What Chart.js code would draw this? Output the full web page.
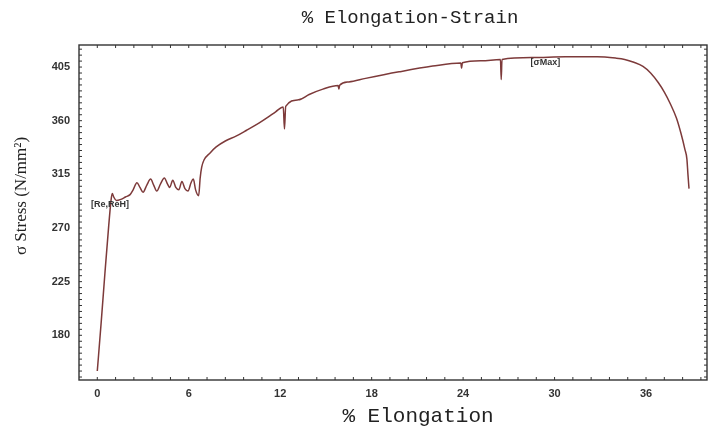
<!DOCTYPE html>
<html>
<head>
<meta charset="utf-8">
<script src="https://cdn.jsdelivr.net/npm/chart.js@4/dist/chart.umd.min.js"></script>
<style>
  html, body { margin: 0; padding: 0; background: #fff; }
  #wrap { width: 712px; height: 433px; }
</style>
</head>
<body>
<div id="wrap"><canvas id="strainChart" width="712" height="433"></canvas></div>
<script>
// % elongation (x) and stress in N/mm2 (y)
const elongation = [
  0.00, 0.25, 0.50, 0.75, 0.90, 0.98, 1.08, 1.25, 1.55, 1.85,
  2.15, 2.35, 2.60, 2.80, 3.00, 3.25, 3.50, 3.70, 3.90, 4.15,
  4.40, 4.60, 4.75, 4.95, 5.15, 5.35, 5.55, 5.75, 5.95, 6.15,
  6.30, 6.45, 6.65, 6.75, 6.85, 7.00, 7.40, 7.80, 8.40, 9.10,
  9.80, 10.6, 11.2, 11.7, 12.2, 12.28, 12.36, 13.2, 13.9, 14.8,
  15.8, 15.85, 15.9, 16.5, 17.6, 19.8, 22.0, 23.85, 23.9, 23.95,
  25.2, 26.45, 26.5, 26.55, 28.5, 30.7, 32.8, 34.0, 34.6, 35.2,
  35.8, 36.3, 36.8, 37.2, 37.6, 38.0, 38.3, 38.55, 38.68, 38.75,
  38.82
];
const stress = [
  150, 190, 232, 272, 293, 299, 296, 293, 294, 296,
  298, 302, 308, 304, 300, 306, 311, 306, 301, 307,
  312, 307, 304, 310, 304, 302, 309, 303, 301, 308,
  311, 302, 297, 312, 321, 327, 333, 338, 343, 347,
  352, 358, 363, 367.5, 371.5, 353, 372, 377.5, 382, 386.5,
  389.5, 386.5, 389.8, 392.5, 395.5, 401, 405.8, 408.5, 404, 408.6,
  410.3, 411.3, 394.6, 411.4, 413, 413.6, 413.6, 412.5, 411.4, 409,
  405.5, 400, 392, 384, 374, 362, 349, 336, 328, 315,
  303
];

const xTicks = [0, 6, 12, 18, 24, 30, 36];
const yTicks = [180, 225, 270, 315, 360, 405];

// point labels on the curve
const noteText = ['[Re,ReH]', '[\u03c3Max]'];
const noteX = [0.83, 29.4];
const noteY = [290, 408.5];

const points = elongation.map((e, i) => ({ x: e, y: stress[i] }));

// frame, minor ticks, titles and point labels
const decorPlugin = {
  id: 'decor',
  afterDraw(chart) {
    const ctx = chart.ctx;
    const area = chart.chartArea;
    const xs = chart.scales.x;
    const ys = chart.scales.y;
    ctx.save();

    ctx.strokeStyle = '#333';
    ctx.lineWidth = 1.4;
    ctx.strokeRect(area.left, area.top, area.right - area.left, area.bottom - area.top);

    // minor ticks pointing inward
    ctx.lineWidth = 1;
    for (let v = -1.2; v <= 40; v += 1.2) {
      const px = xs.getPixelForValue(v);
      if (px <= area.left || px >= area.right) continue;
      ctx.beginPath();
      ctx.moveTo(px, area.bottom); ctx.lineTo(px, area.bottom - 3);
      ctx.moveTo(px, area.top); ctx.lineTo(px, area.top + 3);
      ctx.stroke();
    }
    for (let v = 145; v <= 423; v += 5) {
      const py = ys.getPixelForValue(v);
      if (py <= area.top || py >= area.bottom) continue;
      ctx.beginPath();
      ctx.moveTo(area.left, py); ctx.lineTo(area.left + 3, py);
      ctx.moveTo(area.right, py); ctx.lineTo(area.right - 3, py);
      ctx.stroke();
    }

    ctx.fillStyle = '#222';
    ctx.textAlign = 'center';
    ctx.textBaseline = 'middle';

    ctx.font = '19px "Liberation Mono", monospace';
    ctx.fillText('% Elongation-Strain', 410, 18);
    ctx.font = '21px "Liberation Mono", monospace';
    ctx.fillText('% Elongation', 418, 416);

    ctx.save();
    ctx.translate(22, 196);
    ctx.rotate(-Math.PI / 2);
    ctx.font = '17px "Liberation Serif", serif';
    ctx.fillText('\u03c3 Stress (N/mm\u00b2)', 0, 0);
    ctx.restore();

    ctx.font = 'bold 9px "Liberation Sans", sans-serif';
    ctx.fillStyle = '#333';
    noteText.forEach((t, i) => {
      ctx.fillText(t, xs.getPixelForValue(noteX[i]), ys.getPixelForValue(noteY[i]));
    });

    ctx.restore();
  }
};

const ctx = document.getElementById('strainChart').getContext('2d');
new Chart(ctx, {
  type: 'scatter',
  data: {
    datasets: [{
      label: 'Stress',
      data: points,
      showLine: true,
      borderColor: '#7d3a3a',
      borderWidth: 1.5,
      pointRadius: 0,
      cubicInterpolationMode: 'monotone',
      fill: false
    }]
  },
  options: {
    responsive: false,
    animation: false,
    layout: { padding: { top: 45, right: 5, left: 0, bottom: 0 } },
    plugins: {
      legend: { display: false },
      tooltip: { enabled: false }
    },
    scales: {
      x: {
        type: 'linear',
        min: -1.2,
        max: 40,
        afterBuildTicks: scale => { scale.ticks = xTicks.map(v => ({ value: v })); },
        afterFit: scale => { scale.height = 53; },
        grid: { display: false, drawTicks: true, tickLength: 4, color: '#333' },
        border: { display: false },
        ticks: {
          color: '#333',
          padding: 3,
          maxRotation: 0,
          font: { family: '"Liberation Sans", Arial, sans-serif', size: 11, weight: 'bold' }
        }
      },
      y: {
        type: 'linear',
        min: 142.5,
        max: 423.5,
        afterBuildTicks: scale => { scale.ticks = yTicks.map(v => ({ value: v })); },
        afterFit: scale => { scale.width = 79; },
        grid: { display: false, tickLength: 4, color: '#333' },
        border: { display: false },
        ticks: {
          color: '#333',
          padding: 5,
          font: { family: '"Liberation Sans", Arial, sans-serif', size: 11, weight: 'bold' }
        }
      }
    }
  },
  plugins: [decorPlugin]
});
</script>
</body>
</html>
